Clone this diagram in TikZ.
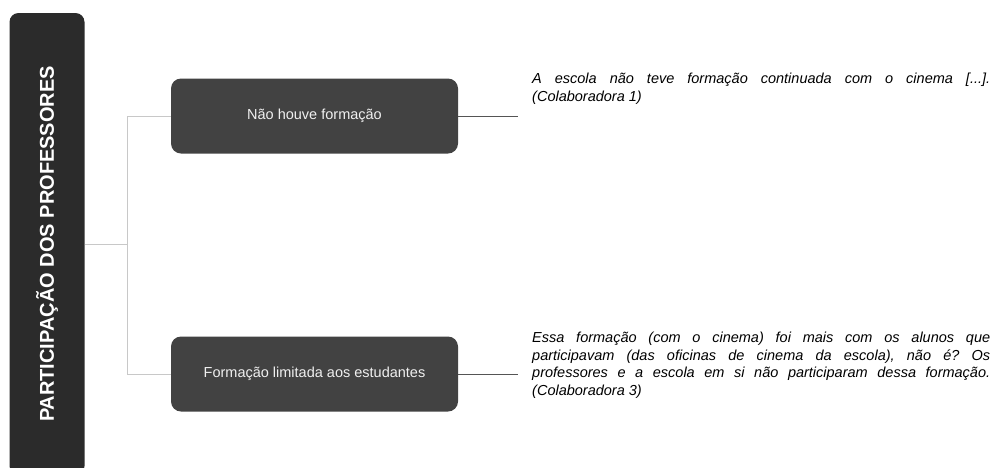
\documentclass[tikz,border=0pt]{standalone}
\usepackage{fontspec}
\setmainfont{Liberation Sans}
\frenchspacing
\definecolor{titlegray}{HTML}{2B2B2B}
\definecolor{boxgray}{HTML}{424242}
\definecolor{linklight}{HTML}{C8C8C8}
\definecolor{linkdark}{HTML}{555555}
\tikzset{
  mainbox/.style={fill=titlegray, rounded corners=9pt, rotate=90,
    minimum width=462pt, minimum height=75pt, text=white,
    font=\fontsize{20}{24}\selectfont\bfseries},
  catbox/.style={fill=boxgray, rounded corners=10pt, minimum width=287pt,
    minimum height=75pt, text=white!94!black, font=\fontsize{14.5}{17}\selectfont},
  quotetext/.style={anchor=north west, text width=458pt, align=justify,
    inner sep=0pt, font=\fontsize{14.5}{17.5}\selectfont\itshape},
  linkleft/.style={draw=linklight, line width=1pt},
  linkright/.style={draw=linkdark, line width=1pt}
}
\begin{document}
\begin{tikzpicture}[x=1pt,y=-1pt]
    \useasboundingbox (0,0) rectangle (993,467);
    \clip (0,0) rectangle (993,467);

    % Main axis
    \node[mainbox] (title) at (47,244) {PARTICIPAÇÃO DOS PROFESSORES};

    % Categories
    \node[catbox] (formA) at (314.5,116) {Não houve formação};
    \node[catbox] (formB) at (314.5,374) {Formação limitada aos estudantes};

    % Quotes
    \node[quotetext] (quoteA) at (532,73)
      {A escola não teve formação continuada com o cinema [...].\linebreak (Colaboradora~1)};
    \node[quotetext] (quoteB) at (532,332)
      {Essa formação (com o cinema) foi mais com os alunos que\linebreak
       participavam (das oficinas de cinema da escola), não é? Os\linebreak
       professores e a escola em si não participaram dessa formação.\linebreak
       (Colaboradora~3)};

    % Connectors
    \draw[linkleft] (title.south) -- ++(43,0) coordinate (fork);
    \draw[linkleft] (formA.west) -| (fork) |- (formB.west);
    \draw[linkright] (formA.east) -- ++(60,0) coordinate (endA);
    \draw[linkright] (formB.east) -- ++(60,0) coordinate (endB);
\end{tikzpicture}
\end{document}
